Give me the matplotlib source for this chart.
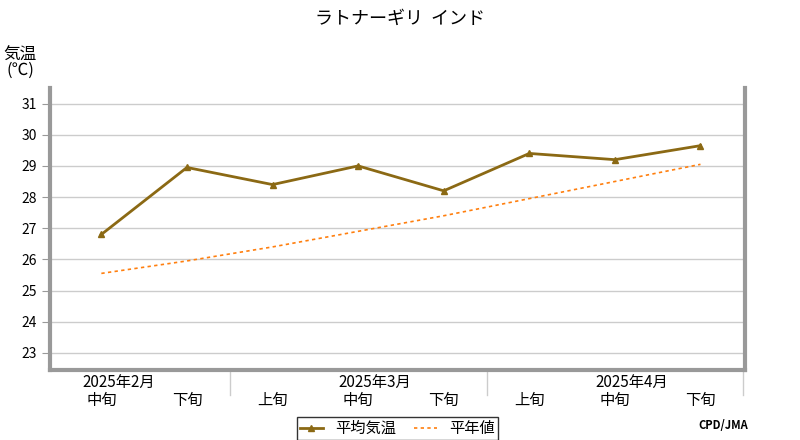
import matplotlib
matplotlib.use("Agg")
import matplotlib.pyplot as plt

plt.rcParams["font.family"] = "Noto Sans CJK JP"

periods = ["中旬", "下旬", "上旬", "中旬", "下旬", "上旬", "中旬", "下旬"]
months = ["2025年2月", "2025年3月", "2025年4月"]
month_pos = [0, 3, 6]
month_sep = [1.5, 4.5, 7.5]
temp = [26.8, 28.95, 28.4, 29.0, 28.2, 29.4, 29.2, 29.65]
normal = [25.55, 25.95, 26.4, 26.9, 27.4, 27.95, 28.5, 29.05]

fig = plt.figure(figsize=(8, 4.4), dpi=100)
ax = fig.add_axes([50 / 800, 70 / 440, 695 / 800, 282 / 440])
x = list(range(len(temp)))
ax.plot(x, temp, color="#8B6914", lw=2, marker="^", ms=5, label="平均気温")
ax.plot(x, normal, color="#FF7F0E", lw=1.2, ls=(0, (2, 2)), label="平年値")

ax.set_xlim(-0.6, 7.52)
ax.set_ylim(22.45, 31.5)
ax.set_yticks(range(23, 32))
ax.tick_params(axis="y", length=6, labelsize=10, color="#999999")
ax.grid(axis="y", color="#cccccc", lw=1)
ax.set_xticks(x)
ax.set_xticklabels(periods, fontsize=11)
ax.tick_params(axis="x", length=0, pad=16)
for m, p in zip(months, month_pos):
    ax.text(p + 0.2, -0.015, m, transform=ax.get_xaxis_transform(),
            ha="center", va="top", fontsize=11)
for s in month_sep:
    ax.plot([s, s], [0, -0.09], transform=ax.get_xaxis_transform(),
            color="#cccccc", lw=1, clip_on=False)
for side in ["left", "right", "bottom"]:
    ax.spines[side].set_color("#999999")
    ax.spines[side].set_linewidth(3)
ax.spines["top"].set_visible(False)

fig.text(0.5, 0.945, "ラトナーギリ  インド", ha="center", fontsize=13)
fig.text(0.025, 0.83, "気温\n(℃)", ha="center", fontsize=12, linespacing=0.85)
fig.text(0.935, 0.025, "CPD/JMA", ha="right", fontsize=8, weight="bold")
ax.legend(loc="upper center", bbox_to_anchor=(0.5, -0.14), ncol=2,
          frameon=True, fancybox=False, edgecolor="black", fontsize=11,
          handlelength=1.5, borderpad=0.2, columnspacing=1.2)

fig.savefig("out.png", dpi=100)
